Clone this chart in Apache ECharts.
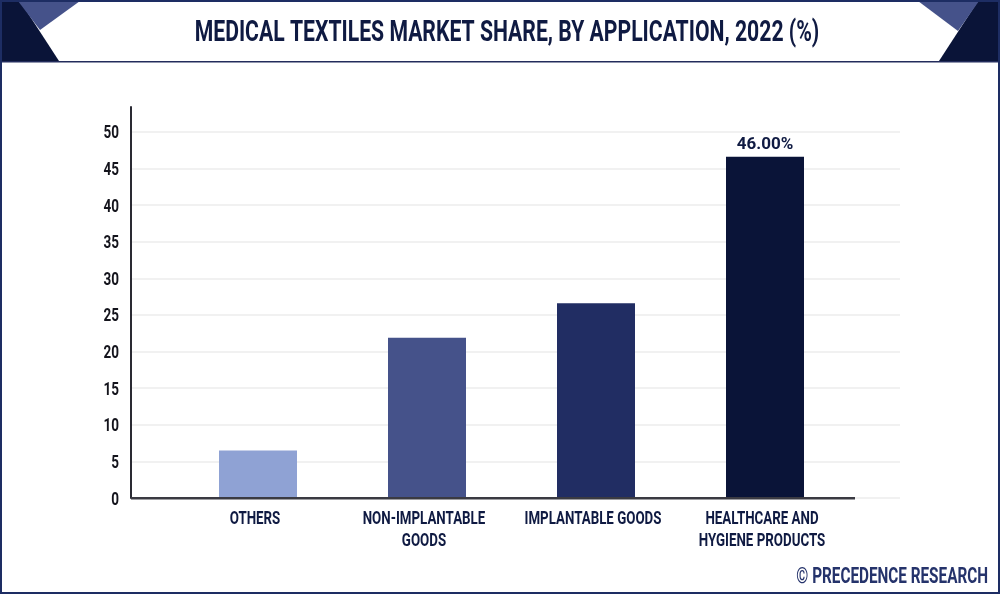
<!DOCTYPE html>
<html><head><meta charset="utf-8">
<style>html,body{margin:0;padding:0;background:#fff}#c{width:1000px;height:594px}</style>
<script src="https://cdn.jsdelivr.net/npm/echarts@6/dist/echarts.min.js"></script>
</head><body><div id="c"></div>
<script>
const categories = ['OTHERS', 'NON-IMPLANTABLE\nGOODS', 'IMPLANTABLE GOODS', 'HEALTHCARE AND\nHYGIENE PRODUCTS'];
const values = [6.5, 21.9, 26.6, 46.6];
const colors = ['#8fa2d4', '#45528a', '#212d63', '#0a1438'];
const valueLabels = ['', '', '', '46.00%'];
const yTicks = [0, 5, 10, 15, 20, 25, 30, 35, 40, 45, 50];
const titleText = 'MEDICAL TEXTILES MARKET SHARE, BY APPLICATION, 2022 (%)';
const creditText = '© PRECEDENCE RESEARCH';
const navy = '#0f1a42';
const font = 'Roboto,"Liberation Sans",sans-serif';
const yMax = 53.4;

const decor = [
  {type: 'rect', z: 5, shape: {x: 131, y: 497, width: 724, height: 2.4}, style: {fill: '#3a3a42'}},
  {type: 'polygon', shape: {points: [[1,1],[20,1],[59,61],[1,61]]}, style: {fill: '#0a1438'}},
  {type: 'polygon', shape: {points: [[18,1],[80,1],[40,30]]}, style: {fill: '#45528a'}},
  {type: 'polygon', shape: {points: [[999,1],[978,1],[939,61],[999,61]]}, style: {fill: '#0a1438'}},
  {type: 'polygon', shape: {points: [[918,1],[979,1],[958,31]]}, style: {fill: '#45528a'}},
  {type: 'rect', shape: {x: 0, y: 61, width: 1000, height: 1.5}, style: {fill: '#232c5c'}},
  {type: 'rect', shape: {x: 1, y: 1, width: 998, height: 592}, style: {fill: 'none', stroke: '#1d2d63', lineWidth: 2}},
  {type: 'text', x: 507, y: 33.5, scaleX: 0.706, style: {text: titleText, fill: navy, font: 'bold 30px ' + font, textAlign: 'center', textVerticalAlign: 'middle'}},
  {type: 'text', x: 988, y: 577, scaleX: 0.695, style: {text: creditText, fill: '#25336b', font: 'bold 22px ' + font, textAlign: 'right', textVerticalAlign: 'middle'}}
];

const chart = echarts.init(document.getElementById('c'), null, {renderer: 'canvas'});
chart.setOption({
  animation: false,
  backgroundColor: '#fff',
  grid: [
    {left: 131, right: 100, top: 107, bottom: 96},
    {left: 173.5, width: 676, top: 107, bottom: 96}
  ],
  xAxis: [
    {type: 'value', gridIndex: 0, show: false, min: 0, max: 1},
    {type: 'category', gridIndex: 1, data: categories,
      axisLine: {show: false}, axisTick: {show: false}, axisLabel: {show: false}}
  ],
  yAxis: [
    {type: 'value', gridIndex: 0, min: 0, max: yMax, interval: 5,
      axisLine: {show: true, onZero: false, lineStyle: {color: '#2a2a33', width: 2}},
      axisTick: {show: false}, axisLabel: {show: false},
      splitLine: {show: true, showMaxLine: false, lineStyle: {color: '#f1f1f1', width: 2}}},
    {type: 'value', gridIndex: 1, min: 0, max: yMax, interval: 5, show: false, splitLine: {show: false}}
  ],
  series: [{
    type: 'bar', xAxisIndex: 1, yAxisIndex: 1, barWidth: 78,
    data: values.map((v, i) => ({value: v, itemStyle: {color: colors[i]},
      label: {show: !!valueLabels[i], formatter: valueLabels[i], position: 'top', distance: 4,
        color: navy, fontFamily: font, fontWeight: 'bold', fontSize: 17}}))
  }],
  graphic: decor
});

// Condensed axis labels, placed through the chart's own scales
const catLabels = categories.map((c, i) => ({
  type: 'text', x: chart.convertToPixel({xAxisIndex: 1}, i) - 3, y: 508, scaleX: 0.74,
  style: {text: c, fill: navy, font: 'bold 18px ' + font, lineHeight: 22, textAlign: 'center', textVerticalAlign: 'top'}
}));
const yLabels = yTicks.map(t => ({
  type: 'text', x: 119, y: chart.convertToPixel({yAxisIndex: 0}, t) + 2, scaleX: 0.75,
  style: {text: String(t), fill: '#14141c', font: 'bold 18px ' + font, textAlign: 'right', textVerticalAlign: 'middle'}
}));
chart.setOption({graphic: decor.concat(catLabels, yLabels)});
</script></body></html>
